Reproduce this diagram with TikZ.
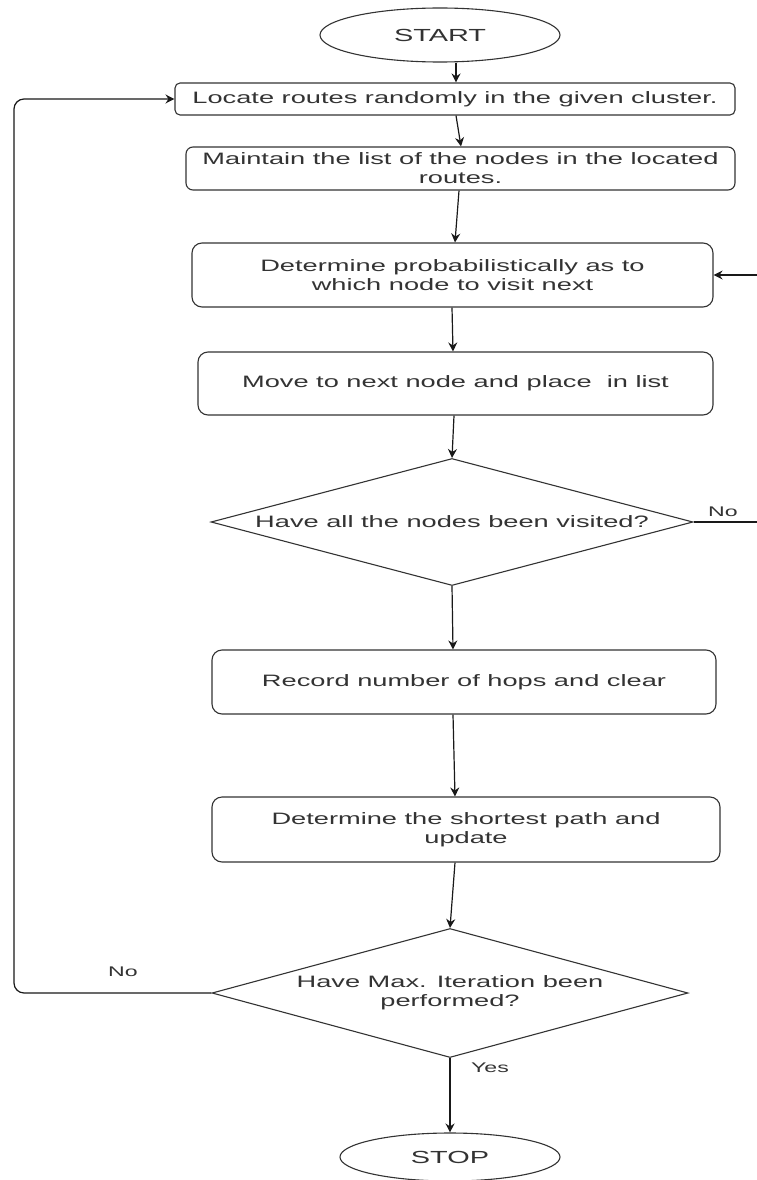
\documentclass[tikz,border=0pt]{standalone}
\usepackage{fontspec}
\usepackage{graphicx}
\setmainfont{Liberation Sans}
\usetikzlibrary{shapes.geometric,arrows.meta,calc}
% wide lettering used throughout the chart
\newcommand{\wtxt}[1]{\scalebox{1.65}[1]{#1}}
\begin{document}
\begin{tikzpicture}[x=1pt,y=-1pt,
  base/.style={draw=black!80, line width=1.1pt, text=black!80,
    font=\fontsize{16.5}{19}\selectfont, inner sep=0pt, align=center},
  proc/.style={base, rectangle, rounded corners=8pt},
  term/.style={base, ellipse, font=\fontsize{17.5}{20}\selectfont},
  dec/.style={base, diamond, aspect=3.8},
  arr/.style={draw=black!90, line width=1.2pt,
    -{Stealth[length=9pt,width=9pt,inset=3pt]}},
  lbl/.style={text=black!80, font=\fontsize{14}{16}\selectfont, inner sep=0pt}]
\fill[white] (0,0) rectangle (756,1180);
\useasboundingbox (0,0) rectangle (756,1180);

% terminals
\node[term, minimum width=240pt, minimum height=54pt] (start) at (440,35) {\wtxt{START}};
\node[term, minimum width=220pt, minimum height=48pt] (stop) at (450,1157) {\wtxt{STOP}};

% process steps
\node[proc, rounded corners=5pt, minimum width=560pt, minimum height=32pt] (loc) at (455,99)
  {\wtxt{Locate routes randomly in the given cluster.}};
\node[proc, rounded corners=7pt, minimum width=549pt, minimum height=43pt] (mnt) at (460.5,168.5)
  {\wtxt{Maintain the list of the nodes in the located}\\\wtxt{routes.}};
\node[proc, rounded corners=10pt, minimum width=521pt, minimum height=64pt] (det) at (452.5,275)
  {\wtxt{Determine probabilistically as to}\\\wtxt{which node to visit next}};
\node[proc, rounded corners=10pt, minimum width=515pt, minimum height=63pt] (mov) at (455.5,383.5)
  {\wtxt{Move to next node and place\ \ in list}};
\node[proc, rounded corners=10pt, minimum width=504pt, minimum height=64pt] (rec) at (464,682)
  {\wtxt{Record number of hops and clear}};
\node[proc, rounded corners=10pt, minimum width=508pt, minimum height=65pt] (sp) at (466,829.5)
  {\wtxt{Determine the shortest path and}\\\wtxt{update}};

% decisions
\node[dec, minimum width=482pt, minimum height=127pt] (d1) at (452,522)
  {\wtxt{Have all the nodes been visited?}};
\node[dec, minimum width=476pt, minimum height=129pt] (d2) at (450,993)
  {\wtxt{Have Max. Iteration been}\\\wtxt{performed?}};

% main flow
\draw[arr] ([xshift=16pt]start.south) -- ([xshift=1pt]loc.north);
\draw[arr] ([xshift=1pt]loc.south) -- ([xshift=0.5pt]mnt.north);
\draw[arr] ([xshift=-1.5pt]mnt.south) -- ([xshift=2.5pt]det.north);
\draw[arr] ([xshift=-0.5pt]det.south) -- ([xshift=-2.5pt]mov.north);
\draw[arr] ([xshift=-1.5pt]mov.south) -- (d1.north);
\draw[arr] (d1.south) -- ([xshift=-11pt]rec.north);
\draw[arr] ([xshift=-11pt]rec.south) -- ([xshift=-11pt]sp.north);
\draw[arr] ([xshift=-11pt]sp.south) -- (d2.north);
\draw[arr] (d2.south) -- (stop.north);

% loop back to route location
\coordinate (lc) at (14,99);
\draw[arr, rounded corners=10pt] (d2.west) -| (lc) -- (loc.west);

% loop back to the probabilistic choice (its riser runs just past the right edge)
\coordinate (rc) at (764,522);
\draw[arr] (d1.east) -- (rc) |- (det.east);

% branch labels
\node[lbl] (no1) at (723,512) {\wtxt{No}};
\node[lbl] (no2) at (123,972) {\wtxt{No}};
\node[lbl] (yes) at (490,1068) {\wtxt{Yes}};
\end{tikzpicture}
\end{document}
